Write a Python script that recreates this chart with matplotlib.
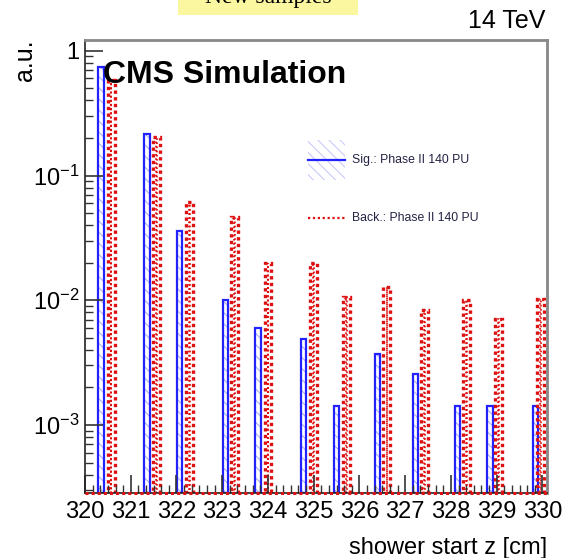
"""
plot.py - shower start z, signal vs background (CMS Simulation style)
"""

import matplotlib
matplotlib.use("Agg")
import matplotlib.pyplot as plt
from matplotlib.patches import Rectangle
from matplotlib.ticker import FixedLocator, FixedFormatter, MultipleLocator, LogLocator, NullFormatter

# ── data ─────────────────────────────────────────────────────────────────────
SIG_Z = [320.35, 321.35, 322.07, 323.07, 323.78, 324.78,
         325.50, 326.40, 327.22, 328.14, 328.85, 329.85]
SIG_VALS = [0.744, 0.215, 0.0353, 0.00984, 0.00576, 0.00457,
            0.00114, 0.00345, 0.00229, 0.00114, 0.00114, 0.00114]

BKG_Z = [320.57, 321.56, 322.28, 323.27, 324.00, 325.00,
         325.72, 326.60, 327.42, 328.34, 329.04, 329.96]
BKG_VALS = [0.582, 0.202, 0.0608, 0.0458, 0.0197, 0.0197,
            0.0103, 0.0124, 0.00807, 0.0097, 0.00684, 0.0100]

X_TICKS = list(range(320, 331))
Y_TICKS = [1e-3, 1e-2, 1e-1, 1]
Y_TICK_LABELS = ["$10^{-3}$", "$10^{-2}$", "$10^{-1}$", "1"]

SIG_LABEL = "Sig.: Phase II 140 PU"
BKG_LABEL = "Back.: Phase II 140 PU"

# ── style ────────────────────────────────────────────────────────────────────
plt.rcParams["font.family"] = ["Liberation Sans", "DejaVu Sans"]
plt.rcParams["mathtext.fontset"] = "custom"
plt.rcParams["mathtext.rm"] = "Liberation Sans"
plt.rcParams["mathtext.it"] = "Liberation Sans:italic"
plt.rcParams["hatch.linewidth"] = 0.8

YMIN, YMAX = 2.85e-4, 1.22

fig = plt.figure(figsize=(5.69, 5.58), dpi=100)
ax = fig.add_axes([0.1494, 0.1165, 0.8119, 0.8118])

# signal: light blue hatched fill + blue outline
ax.bar(SIG_Z, SIG_VALS, width=0.12, bottom=YMIN, color="none",
       edgecolor="#aab0f5", hatch="\\\\\\", linewidth=0)
ax.bar(SIG_Z, SIG_VALS, width=0.12, bottom=YMIN, color="none",
       edgecolor="#2222ff", linewidth=1.6)

# background: dotted red outline
ax.bar(BKG_Z, BKG_VALS, width=0.15, bottom=YMIN, color="none",
       edgecolor="#dd1111", linewidth=2.4, linestyle=(0, (1, 1)))
ax.bar(BKG_Z, BKG_VALS, width=0.01, bottom=YMIN, color="none",
       edgecolor="#dd1111", linewidth=1.2, linestyle=(0, (1, 1.5)))

# histogram baseline running along the bottom
ax.plot([320, 330.1], [YMIN, YMIN], color="#dd1111", linestyle=(0, (1, 1)),
        linewidth=2.2, clip_on=False, zorder=4)

ax.set_yscale("log")
ax.set_xlim(320.0, 330.1)
ax.set_ylim(YMIN, YMAX)

ax.xaxis.set_major_locator(FixedLocator(X_TICKS))
ax.xaxis.set_minor_locator(MultipleLocator(1 / 6))
ax.yaxis.set_major_locator(FixedLocator(Y_TICKS))
ax.yaxis.set_major_formatter(FixedFormatter(Y_TICK_LABELS))
ax.yaxis.set_minor_locator(LogLocator(base=10, subs=range(2, 10)))
ax.yaxis.set_minor_formatter(NullFormatter())

ax.tick_params(axis="both", which="major", direction="in", length=13,
               width=1.2, labelsize=17, color="#333333")
ax.tick_params(axis="both", which="minor", direction="in", length=6,
               width=1.0, color="#333333")
ax.tick_params(axis="x", pad=6)
ax.tick_params(axis="y", pad=4)

for side in ["left", "bottom"]:
    ax.spines[side].set_linewidth(1.2)
    ax.spines[side].set_color("#222222")
for side in ["top", "right"]:
    ax.spines[side].set_linewidth(2.0)
    ax.spines[side].set_color("#888888")

ax.set_xlabel("shower start z [cm]", fontsize=17, loc="right", labelpad=10)
fig.text(0.044, 0.93, "a.u.", rotation=90, fontsize=18, ha="center", va="top")

ax.text(0.04, 0.922, "CMS Simulation", transform=ax.transAxes, fontsize=23,
        fontweight="bold", ha="left", va="center")
fig.text(0.958, 0.962, "14 TeV", fontsize=18, ha="right", va="center")

# top banner, cut off by the figure edge
fig.patches.append(Rectangle((178 / 569, 1 - 15 / 558), 180 / 569, 15 / 558,
                             transform=fig.transFigure, facecolor="#fbf7a0",
                             edgecolor="none", zorder=0))
fig.text(268 / 569, 1 - 3.5 / 558, "New samples", fontsize=17,
         family="Liberation Serif", ha="center", va="baseline")

# legend drawn by hand
ax.add_patch(Rectangle((0.483, 0.691), 0.08, 0.088, transform=ax.transAxes,
                       facecolor="none", edgecolor="#c8ccf8", hatch="\\\\\\",
                       linewidth=0))
ax.plot([0.483, 0.563], [0.735, 0.735], transform=ax.transAxes,
        color="#2222ff", linewidth=1.6)
ax.text(0.578, 0.735, SIG_LABEL, transform=ax.transAxes, fontsize=8.8,
        ha="left", va="center", color="#222244")
ax.plot([0.483, 0.563], [0.607, 0.607], transform=ax.transAxes,
        color="#dd1111", linewidth=1.6, linestyle=(0, (1, 1.2)))
ax.text(0.578, 0.607, BKG_LABEL, transform=ax.transAxes, fontsize=8.8,
        ha="left", va="center", color="#222244")

fig.savefig("out.png", dpi=100)
